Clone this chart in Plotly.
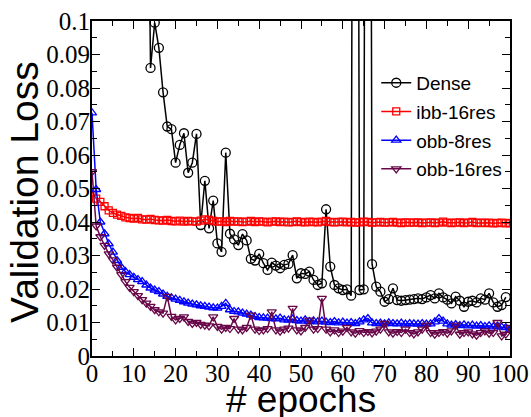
import plotly.graph_objects as go

# ---------------- data ----------------
epochs_all = list(range(0, 101))
epochs_dense = list(range(0, 100))

dense = [0.95, 0.62, 0.48, 0.40, 0.33, 0.28, 0.25, 0.23, 0.21, 0.19, 0.17, 0.15, 0.13, 0.20,
         0.086, 0.0995, 0.092, 0.0787, 0.0685, 0.0677, 0.0577, 0.063, 0.0665, 0.0547,
         0.0577, 0.0663, 0.0391, 0.0523, 0.0381, 0.0464, 0.0336, 0.0311, 0.0607, 0.0365,
         0.0348, 0.0331, 0.0364, 0.0345, 0.029, 0.0285, 0.0305, 0.0277, 0.0257, 0.0279,
         0.027, 0.0262, 0.0272, 0.0275, 0.0301, 0.0232, 0.0247, 0.0245, 0.0252, 0.0227,
         0.0212, 0.0217, 0.0438, 0.0267, 0.0212, 0.0202, 0.0197, 0.0199, 0.018, 0.5,
         0.0197, 0.0199, 0.5, 0.0274, 0.0207, 0.0192, 0.0162, 0.017, 0.0202, 0.0167,
         0.0165, 0.0167, 0.0168, 0.017, 0.0172, 0.017, 0.0175, 0.0182, 0.0172, 0.0187,
         0.0175, 0.0168, 0.0157, 0.0177, 0.0165, 0.0147, 0.0162, 0.0165, 0.016, 0.0172,
         0.0168, 0.0187, 0.016, 0.0147, 0.0152, 0.0176]

ibb_16res = [0.049, 0.047, 0.046, 0.0447, 0.0435, 0.0427, 0.0422, 0.0418, 0.0414, 0.0412,
             0.041, 0.0412, 0.0408, 0.0407, 0.0409, 0.0406, 0.0405, 0.0404, 0.0406, 0.0403,
             0.0402, 0.0404, 0.0401, 0.0403, 0.0402, 0.0401, 0.0404, 0.0408, 0.0406, 0.0403,
             0.0401, 0.0402, 0.0400, 0.0403, 0.0401, 0.0402, 0.0400, 0.0401, 0.0403, 0.0400,
             0.0402, 0.0401, 0.0399, 0.0401, 0.0402, 0.0400, 0.0401, 0.0399, 0.0400, 0.0402,
             0.0400, 0.0399, 0.0401, 0.0400, 0.0399, 0.0401, 0.0403, 0.0400, 0.0399, 0.0400,
             0.0401, 0.0399, 0.0400, 0.0398, 0.0399, 0.0401, 0.0400, 0.0398, 0.0399, 0.0400,
             0.0398, 0.0399, 0.0400, 0.0398, 0.0397, 0.0399, 0.0398, 0.0398, 0.0399, 0.0397,
             0.0398, 0.0399, 0.0397, 0.0398, 0.0401, 0.0398, 0.0397, 0.0398, 0.0399, 0.0397,
             0.0398, 0.0400, 0.0397, 0.0398, 0.0397, 0.0398, 0.0396, 0.0397, 0.0398, 0.0396,
             0.0397]

obb_8res = [0.0726, 0.0497, 0.040, 0.0365, 0.0335, 0.031, 0.0285, 0.0265, 0.0252, 0.0243,
            0.0235, 0.0228, 0.0222, 0.0212, 0.0203, 0.0197, 0.0192, 0.0185, 0.0178, 0.0174,
            0.017, 0.0166, 0.0162, 0.0158, 0.0155, 0.0153, 0.015, 0.0148, 0.0146, 0.0144,
            0.0143, 0.0148, 0.0157, 0.0138, 0.0133, 0.0132, 0.0128, 0.0125, 0.0122, 0.0118,
            0.0115, 0.0114, 0.0113, 0.0112, 0.0111, 0.0113, 0.0108, 0.0107, 0.011, 0.0106,
            0.0104, 0.0108, 0.0103, 0.0105, 0.0102, 0.0104, 0.0101, 0.010, 0.0103, 0.0099,
            0.0101, 0.0098, 0.010, 0.0097, 0.0102, 0.0108, 0.0112, 0.0099, 0.0097, 0.0098,
            0.0096, 0.0099, 0.0097, 0.0096, 0.0098, 0.0095, 0.0097, 0.0096, 0.0095, 0.0097,
            0.0095, 0.0096, 0.0102, 0.0112, 0.0104, 0.0096, 0.0092, 0.0094, 0.0091, 0.0093,
            0.009, 0.0092, 0.0089, 0.0091, 0.0088, 0.009, 0.0087, 0.0089, 0.0086, 0.0085,
            0.0078]

obb_16res = [0.055, 0.0388, 0.0356, 0.033, 0.0305, 0.0287, 0.0265, 0.0243, 0.0222, 0.0205,
             0.0192, 0.018, 0.0168, 0.0158, 0.0148, 0.0138, 0.0132, 0.0128, 0.0178, 0.0118,
             0.0108, 0.0112, 0.0117, 0.0103, 0.0097, 0.010, 0.0094, 0.0092, 0.009, 0.0117,
             0.0088, 0.008, 0.0085, 0.0082, 0.0112, 0.008, 0.0078, 0.0085, 0.0122, 0.008,
             0.0076, 0.0078, 0.0082, 0.0132, 0.0078, 0.0074, 0.008, 0.0083, 0.0142, 0.0078,
             0.0075, 0.0085, 0.0107, 0.008, 0.0082, 0.0172, 0.008, 0.0072, 0.0078, 0.007,
             0.0074, 0.0085, 0.0072, 0.0068, 0.0076, 0.007, 0.0073, 0.0069, 0.0074, 0.008,
             0.0097, 0.0072, 0.0068, 0.0073, 0.007, 0.008, 0.007, 0.0066, 0.0072, 0.008,
             0.0092, 0.007, 0.0065, 0.007, 0.0073, 0.0068, 0.0075, 0.0092, 0.0065, 0.007,
             0.0072, 0.0066, 0.0062, 0.007, 0.0075, 0.0068, 0.007, 0.010, 0.006, 0.0065,
             0.0085]

x_tickvals = [0, 10, 20, 30, 40, 50, 60, 70, 80, 90, 100]
x_ticktext = ["0", "10", "20", "30", "40", "50", "60", "70", "80", "90", "100"]
y_tickvals = [0, 0.01, 0.02, 0.03, 0.04, 0.05, 0.06, 0.07, 0.08, 0.09, 0.1]
y_ticktext = ["0", "0.01", "0.02", "0.03", "0.04", "0.05", "0.06", "0.07", "0.08", "0.09", "0.1"]

# ---------------- figure ----------------
fig = go.Figure()

series = [
    ("Dense", epochs_dense, dense, "black", "circle-open", 9),
    ("ibb-16res", epochs_all, ibb_16res, "#ff0000", "square-open", 7),
    ("obb-8res", epochs_all, obb_8res, "#0000ff", "triangle-up-open", 8),
    ("obb-16res", epochs_all, obb_16res, "rgb(103,7,72)", "triangle-down-open", 8),
]
for name, xs, ys, col, sym, sz in series:
    fig.add_trace(go.Scatter(
        x=xs, y=ys, name=name, legendgroup=name, mode="lines+markers",
        line=dict(color=col, width=1.5),
        marker=dict(symbol=sym, size=sz, color=col, line=dict(width=1.3, color=col)),
    ))

axis_common = dict(
    showline=True, linecolor="black", linewidth=2, mirror="ticks",
    ticks="inside", ticklen=8, tickwidth=1.3, tickcolor="black",
    showgrid=False, zeroline=False, automargin=False,
    tickfont=dict(family="Liberation Serif", size=25, color="black"),
)

fig.update_xaxes(
    range=[0, 100], tickvals=x_tickvals, ticktext=x_ticktext, ticklabelstandoff=-6,
    minor=dict(dtick=5, tick0=0, ticks="inside", ticklen=5, tickwidth=1.3, tickcolor="black", showgrid=False),
    **axis_common,
)
fig.update_yaxes(
    range=[0, 0.1], tickvals=y_tickvals, ticktext=y_ticktext, ticklabelstandoff=-5,
    minor=dict(dtick=0.005, tick0=0, ticks="inside", ticklen=5, tickwidth=1.3, tickcolor="black", showgrid=False),
    **axis_common,
)

fig.add_annotation(
    text="# epochs", xref="paper", yref="paper", x=0.5, y=-0.063,
    xanchor="center", yanchor="top", showarrow=False,
    font=dict(family="Liberation Sans", size=37, color="black"),
)
fig.add_annotation(
    text="Validation Loss", xref="paper", yref="paper", x=-0.16, y=0.49,
    xanchor="center", yanchor="middle", showarrow=False, textangle=-90,
    font=dict(family="Liberation Sans", size=39, color="black"),
)

fig.update_layout(
    width=531, height=417,
    margin=dict(l=92, r=21, t=21, b=61, autoexpand=False),
    paper_bgcolor="white", plot_bgcolor="white",
    legend=dict(
        x=0.68, y=0.872, xanchor="left", yanchor="top",
        bgcolor="rgba(0,0,0,0)", borderwidth=0,
        font=dict(family="Liberation Sans", size=19, color="black"),
        tracegroupgap=1,
    ),
)

fig.write_html("out.html", config={"displayModeBar": False},
               post_script="document.body.style.margin='0px';")
